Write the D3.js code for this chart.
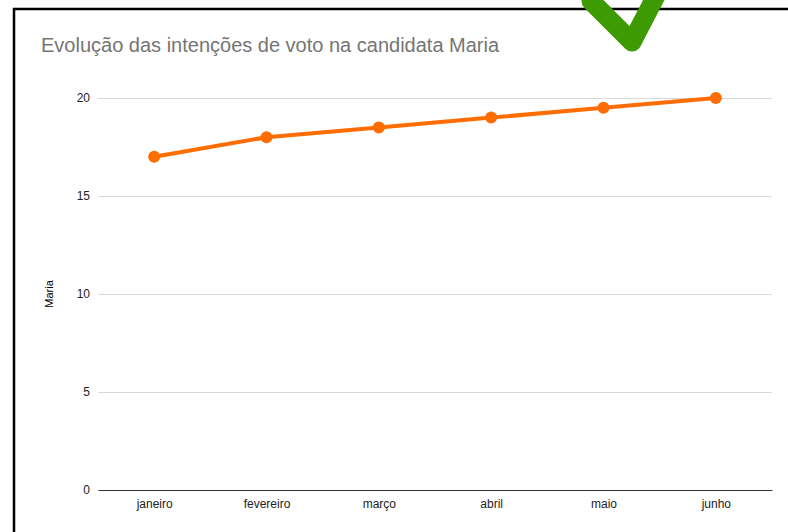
<!DOCTYPE html>
<html>
<head>
<meta charset="utf-8">
<script src="https://cdn.jsdelivr.net/npm/d3@7"></script>
<style>
  body { margin: 0; background: #fff; }
  svg { display: block; font-family: "Liberation Sans", Arial, sans-serif; }
</style>
</head>
<body>
<div id="chart-area"></div>
<script>
const WIDTH = 788;
const HEIGHT = 532;

const months = ["janeiro", "fevereiro", "março", "abril", "maio", "junho"];
const maria = [17, 18, 18.5, 19, 19.5, 20];
const yTicks = [0, 5, 10, 15, 20];

const margin = { left: 98, right: 16, top: 98, bottom: 42 };
const plotW = WIDTH - margin.left - margin.right;
const plotH = HEIGHT - margin.top - margin.bottom;

const svg = d3.select("#chart-area").append("svg").attr("width", WIDTH).attr("height", HEIGHT);

// screenshot frame
svg.append("path").
    attr("d", `M14,${HEIGHT} V9 H${WIDTH}`).
    attr("fill", "none").
    attr("stroke", "#000").
    attr("stroke-width", 2.5);

svg.append("text").
    attr("x", 41).
    attr("y", 52).
    attr("font-size", "20px").
    attr("fill", "#757575").
    text("Evolução das intenções de voto na candidata Maria");

const group = svg.append("g").attr("transform", `translate(${margin.left},${margin.top})`);

const x = d3.scalePoint().domain(months).range([0, plotW]).padding(0.5);
const y = d3.scaleLinear().domain([0, 20]).range([plotH, 0]);

// gridlines
const yAxisCall = d3.axisLeft(y).tickValues(yTicks).tickSize(-plotW).tickPadding(8);
const yAxis = group.append("g").attr("class", "y axis").call(yAxisCall);
yAxis.select(".domain").remove();
yAxis.selectAll("line").attr("stroke", "#d9d9d9").attr("stroke-width", 1);
yAxis.selectAll("text").attr("font-size", "12px").attr("fill", "#222").attr("font-family", "Liberation Sans, Arial, sans-serif");

const xAxisCall = d3.axisBottom(x).tickSize(0).tickPadding(9);
const xAxis = group.append("g").attr("class", "x axis").
    attr("transform", `translate(0, ${plotH})`).
    call(xAxisCall);
xAxis.select(".domain").attr("stroke", "#333").attr("stroke-width", 1.2);
xAxis.selectAll("text").attr("font-size", "12px").attr("fill", "#222").attr("font-family", "Liberation Sans, Arial, sans-serif");

const line = d3.line().x((d, i) => x(months[i])).y(d => y(d));

group.append("path").
    datum(maria).
    attr("d", line).
    attr("fill", "none").
    attr("stroke", "#ff6d00").
    attr("stroke-width", 4);

group.selectAll("circle").data(maria).enter().append("circle").
    attr("cx", (d, i) => x(months[i])).
    attr("cy", d => y(d)).
    attr("r", 6).
    attr("fill", "#ff6d00");

group.append("text").
    attr("x", -(plotH / 2)).
    attr("y", -45).
    attr("font-size", "11px").
    attr("text-anchor", "middle").
    attr("transform", "rotate(-90)").
    style("fill", "black").
    text("Maria");

// green check mark drawn over the screenshot
svg.append("path").
    attr("d", "M591,1 L632,42 L659,-10").
    attr("fill", "none").
    attr("stroke", "#3d9a02").
    attr("stroke-width", 19).
    attr("stroke-linecap", "round").
    attr("stroke-linejoin", "round");
</script>
</body>
</html>
